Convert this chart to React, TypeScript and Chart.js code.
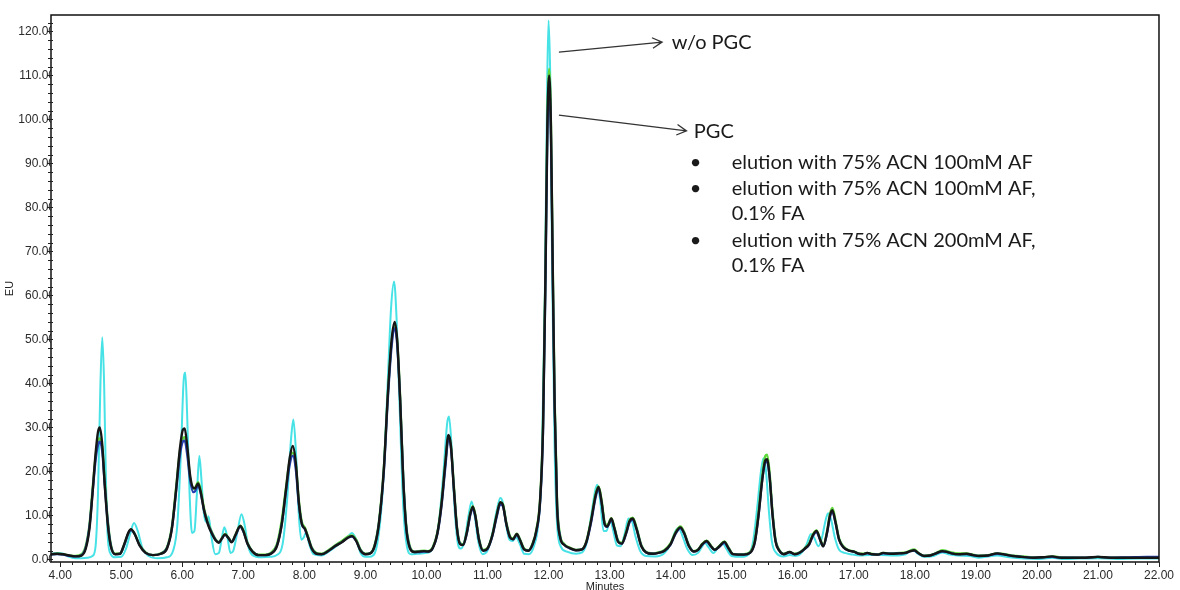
import React, { useEffect, useRef } from "react";
import { Chart, registerables } from "chart.js";

Chart.register(...registerables);

// ---- Data (retention time in minutes, signal in EU) ----
const pgcTimes = [
  3.85, 3.95, 4.05, 4.15, 4.25, 4.35, 4.42, 4.48, 4.53, 4.58, 4.62, 4.65, 4.69, 4.73, 4.78, 4.83, 4.9,
  4.98, 5.05, 5.12, 5.16, 5.22, 5.3, 5.4, 5.52, 5.65,
  5.75, 5.83, 5.9, 5.96, 6.01, 6.04, 6.08, 6.13, 6.18, 6.21, 6.26, 6.3, 6.36, 6.42, 6.48, 6.55, 6.6, 6.65, 6.7, 6.75, 6.81, 6.87, 6.95, 7.0,
  7.07, 7.15, 7.25, 7.36, 7.45, 7.55, 7.63, 7.7, 7.76, 7.81, 7.86, 7.91, 7.96, 8.01, 8.06, 8.12, 8.2, 8.28, 8.38, 8.5, 8.62, 8.72, 8.78, 8.85, 8.92, 9.0,
  9.08, 9.15, 9.22, 9.3, 9.37, 9.43, 9.48, 9.52, 9.57, 9.62, 9.67, 9.73, 9.8, 9.88, 9.96,
  10.03, 10.1, 10.18, 10.25, 10.31, 10.36, 10.4, 10.45, 10.5, 10.55, 10.6, 10.66, 10.72, 10.76, 10.8, 10.86, 10.93, 11.0,
  11.08, 11.15, 11.21, 11.25, 11.31, 11.37, 11.42, 11.48, 11.53, 11.6, 11.67, 11.74, 11.8, 11.86,
  11.91, 11.95, 11.98, 12.01, 12.04, 12.07, 12.1, 12.14, 12.19, 12.26, 12.35, 12.45, 12.55,
  12.62, 12.7, 12.77, 12.82, 12.87, 12.92, 12.96, 13.03, 13.08, 13.14, 13.2, 13.27, 13.33, 13.38, 13.44, 13.52, 13.6,
  13.7, 13.8, 13.9, 14.0, 14.08, 14.16, 14.22, 14.3, 14.38, 14.45, 14.52, 14.59, 14.66, 14.72, 14.8, 14.88, 14.95, 15.02,
  15.1, 15.2, 15.3, 15.38, 15.44, 15.5, 15.55, 15.58, 15.62, 15.67, 15.72, 15.78, 15.85, 15.95, 16.03,
  16.12, 16.2, 16.27, 16.33, 16.39, 16.45, 16.5, 16.56, 16.61, 16.65, 16.7, 16.76, 16.83, 16.92, 17.0,
  17.08, 17.15, 17.22, 17.3, 17.4, 17.48, 17.6, 17.75, 17.85, 17.93, 17.99, 18.06, 18.15, 18.25, 18.35, 18.45, 18.5,
  18.6, 18.72, 18.85, 18.95, 19.05, 19.2, 19.35, 19.48, 19.6, 19.75, 19.95, 20.1, 20.25, 20.4, 20.6, 20.8, 21.0, 21.2, 21.5, 21.8, 22.0,
];

// PGC, elution with 75% ACN 200mM AF, 0.1% FA (black)
const pgcBlackEU = [
  1.2, 1.3, 1.2, 0.9, 0.7, 0.9, 2.5, 7, 15, 24, 29, 30, 26, 17, 8, 3, 1.2,
  1.3, 3.5, 6.2, 6.9, 5.8, 3.2, 1.5, 1.0, 1.3,
  2.5, 7, 16, 25, 29.5, 29.8, 26, 19, 16.3, 16.2, 17.3, 15.5, 11, 8, 6, 4.3, 3.8, 4.8, 5.7, 5.0, 3.9, 5.5, 7.6, 6.5,
  3.5, 1.8, 1.0, 1.0, 1.3, 3, 8, 16, 23, 25.8, 22, 13, 8, 7, 5, 2.5, 1.3, 1.2, 1.8, 3.0, 4.0, 5.0, 5.3, 4.2, 2.0, 1.2,
  1.4, 3, 8, 20, 38, 50, 54, 50, 36, 18, 7, 2.5, 1.7, 1.8, 1.9,
  1.8, 2.5, 6, 13, 22, 28.3, 26, 16, 7, 3.5, 3.3, 6, 10.5, 12, 10, 4.5, 2.0, 2.5,
  5.5, 10, 13, 12.5, 8, 5, 4.6, 5.8, 4.5, 2.3, 2.0, 3.5, 6.5, 13,
  30, 65, 98, 110, 98, 65, 35, 12, 5, 3.3, 2.6, 2.1, 2.3,
  4, 9, 14.5, 16.5, 13, 8, 7.5, 9.3, 7, 4, 3.6, 6, 8.8, 9.3, 7, 3, 1.6,
  1.3, 1.5, 2.0, 3.5, 6, 7.3, 6, 3, 1.8, 2.2, 3.5, 4.2, 3, 2.2, 3, 4, 2.5, 1.2,
  1.1, 1.1, 1.5, 4, 10, 18, 22.5, 22.8, 19, 10, 4, 2, 1.2, 1.7, 1.2,
  1.6, 2.5, 3.5, 5.5, 6.5, 4.5, 3, 6, 10, 11.2, 8.5, 4.5, 2.8, 2.0, 1.8,
  1.3, 1.2, 1.5, 1.2, 1.1, 1.5, 1.3, 1.4, 1.5, 1.9, 2.1, 1.4, 0.8, 0.9, 1.4, 1.9, 1.8,
  1.4, 1.2, 1.3, 1.0, 0.8, 0.9, 1.4, 1.1, 0.8, 0.6, 0.4, 0.5, 0.7, 0.4, 0.4, 0.4, 0.6, 0.4, 0.4, 0.4, 0.4,
];

// PGC, elution with 75% ACN 100mM AF (blue)
const pgcBlueEU = [
  1.1, 1.2, 1.1, 0.8, 0.7, 1.0, 2.8, 7.5, 15, 22.5, 26, 26.8, 24.5, 17, 8.5, 3.2, 1.2,
  1.3, 3.3, 6.0, 6.7, 5.8, 3.3, 1.5, 1.0, 1.3,
  2.6, 7, 15.5, 23.5, 26.8, 27, 24, 18, 15.3, 15.5, 16.8, 15.2, 11, 8.2, 6.2, 4.4, 3.9, 4.8, 5.6, 5.0, 4.0, 5.4, 7.4, 6.4,
  3.6, 1.8, 1.0, 1.0, 1.3, 3.1, 8, 15.5, 21.5, 23.6, 20.5, 12.5, 8, 6.8, 5, 2.6, 1.3, 1.2, 1.8, 3.0, 4.0, 5.0, 5.2, 4.2, 2.1, 1.2,
  1.4, 3, 8, 19.5, 37, 48.5, 52.5, 49, 36, 18.5, 7.3, 2.7, 1.7, 1.7, 1.8,
  1.8, 2.5, 5.8, 12.5, 21, 27.4, 25.5, 16, 7.2, 3.6, 3.3, 5.8, 10.2, 11.6, 9.8, 4.6, 2.0, 2.4,
  5.3, 9.6, 12.5, 12.2, 8, 5, 4.6, 5.6, 4.5, 2.3, 2.0, 3.4, 6.3, 12.5,
  29, 63, 95, 107.5, 96, 64, 35, 12.5, 5.2, 3.3, 2.5, 2.1, 2.3,
  3.9, 8.6, 14, 16, 12.8, 8, 7.4, 9, 7, 4.1, 3.6, 5.8, 8.5, 9.0, 7, 3.1, 1.6,
  1.3, 1.5, 2.0, 3.4, 5.8, 7.1, 6, 3.1, 1.8, 2.2, 3.4, 4.0, 3, 2.2, 2.9, 3.8, 2.5, 1.2,
  1.1, 1.1, 1.5, 4, 10, 18, 22, 22.2, 19, 10.2, 4.2, 2, 1.2, 1.6, 1.2,
  1.6, 2.4, 3.4, 5.3, 6.2, 4.4, 3, 5.8, 9.6, 10.8, 8.4, 4.5, 2.8, 2.0, 1.8,
  1.3, 1.2, 1.4, 1.2, 1.1, 1.4, 1.3, 1.4, 1.5, 1.9, 2.0, 1.4, 0.8, 0.9, 1.4, 1.8, 1.8,
  1.4, 1.2, 1.2, 1.0, 0.8, 0.9, 1.3, 1.1, 0.8, 0.6, 0.4, 0.5, 0.6, 0.4, 0.4, 0.4, 0.6, 0.4, 0.5, 0.6, 0.6,
];

// PGC, elution with 75% ACN 100mM AF, 0.1% FA (green)
const pgcGreenEU = [
  1.2, 1.3, 1.2, 0.9, 0.8, 1.2, 3.2, 8, 16, 23.5, 27, 27.5, 25.5, 18, 9, 3.5, 1.3,
  1.3, 3.4, 6.1, 6.8, 5.9, 3.4, 1.6, 1.0, 1.4,
  2.8, 7.5, 16.5, 24.5, 27.5, 27.8, 25, 18.5, 16, 16.3, 17.6, 16, 11.5, 8.5, 6.4, 4.5, 4.0, 4.9, 5.8, 5.1, 4.1, 5.6, 7.7, 6.7,
  3.8, 1.9, 1.1, 1.1, 1.5, 3.5, 9, 16.5, 22.5, 24.3, 21.5, 13.5, 8.5, 7.2, 5.3, 2.8, 1.5, 1.3, 2.0, 3.2, 4.3, 5.3, 5.5, 4.5, 2.3, 1.3,
  1.5, 3.3, 8.5, 20.5, 38, 49.5, 53.2, 50, 37, 19, 7.8, 3, 1.8, 1.9, 2.0,
  1.9, 2.7, 6.2, 13.3, 22, 28, 26, 16.8, 7.6, 3.8, 3.5, 6.2, 10.7, 12.1, 10.3, 4.9, 2.2, 2.6,
  5.6, 10.1, 13, 12.7, 8.4, 5.3, 4.8, 5.9, 4.7, 2.5, 2.1, 3.7, 6.8, 13.5,
  31, 66, 99, 111.5, 99.5, 67, 37, 13.5, 5.6, 3.5, 2.7, 2.2, 2.4,
  4.2, 9.2, 14.8, 16.6, 13.5, 8.5, 7.8, 9.4, 7.3, 4.3, 3.8, 6.2, 9.0, 9.5, 7.4, 3.3, 1.7,
  1.4, 1.6, 2.2, 3.7, 6.2, 7.5, 6.3, 3.3, 1.9, 2.3, 3.6, 4.3, 3.2, 2.3, 3.1, 4.1, 2.7, 1.3,
  1.2, 1.2, 1.7, 4.5, 11, 19, 23.5, 23.8, 20, 10.8, 4.5, 2.2, 1.3, 1.7, 1.3,
  1.7, 2.6, 3.7, 5.7, 6.6, 4.7, 3.2, 6.3, 10.4, 11.7, 9, 4.8, 3, 2.1, 1.9,
  1.4, 1.3, 1.5, 1.3, 1.2, 1.5, 1.4, 1.5, 1.6, 2.1, 2.3, 1.5, 0.9, 1.0, 1.5, 2.1, 2.0,
  1.6, 1.4, 1.4, 1.1, 0.9, 1.0, 1.4, 1.2, 0.9, 0.7, 0.5, 0.5, 0.7, 0.5, 0.4, 0.4, 0.6, 0.4, 0.4, 0.4, 0.4,
];

// w/o PGC (cyan)
const noPgcTimes = [
  3.85, 3.95, 4.05, 4.15, 4.25, 4.35, 4.45, 4.53, 4.58, 4.62, 4.66, 4.69, 4.72, 4.75, 4.78, 4.83, 4.9,
  5.0, 5.08, 5.15, 5.21, 5.27, 5.35, 5.45, 5.6, 5.75,
  5.85, 5.92, 5.98, 6.02, 6.05, 6.08, 6.12, 6.16, 6.2, 6.24, 6.28, 6.31, 6.35, 6.39, 6.43, 6.48, 6.54, 6.6, 6.65, 6.69, 6.74, 6.79, 6.83, 6.9, 6.97, 7.02,
  7.08, 7.15, 7.3, 7.45, 7.55, 7.65, 7.72, 7.78, 7.82, 7.86, 7.91, 7.95, 7.99, 8.03, 8.08, 8.15, 8.28, 8.4, 8.55, 8.7, 8.78, 8.85, 8.92, 9.0,
  9.1, 9.2, 9.28, 9.35, 9.42, 9.47, 9.51, 9.56, 9.62, 9.68, 9.75, 9.85, 10.0,
  10.1, 10.2, 10.28, 10.34, 10.37, 10.41, 10.46, 10.51, 10.56, 10.62, 10.69, 10.74, 10.79, 10.85, 10.92, 11.0,
  11.08, 11.15, 11.21, 11.25, 11.31, 11.36, 11.41, 11.47, 11.53, 11.6, 11.68, 11.76, 11.83,
  11.89, 11.94, 11.98, 12.0, 12.03, 12.06, 12.1, 12.14, 12.2, 12.3, 12.45, 12.55,
  12.63, 12.71, 12.77, 12.8, 12.85, 12.9, 12.95, 13.01, 13.06, 13.12, 13.18, 13.25, 13.31, 13.36, 13.42, 13.5, 13.6,
  13.75, 13.9, 14.0, 14.07, 14.13, 14.19, 14.27, 14.36, 14.45, 14.52, 14.56, 14.62, 14.7, 14.78, 14.85, 14.91, 15.0,
  15.15, 15.28, 15.35, 15.42, 15.48, 15.52, 15.56, 15.61, 15.66, 15.73, 15.85, 15.95, 16.05,
  16.15, 16.23, 16.3, 16.35, 16.42, 16.48, 16.54, 16.58, 16.63, 16.69, 16.76, 16.85, 16.95,
  17.1, 17.25, 17.45, 17.65, 17.85, 17.96, 18.05, 18.15, 18.3, 18.45, 18.55, 18.7, 18.9,
  19.05, 19.35, 19.55, 19.8, 20.0, 20.25, 20.45, 20.7, 21.0, 21.3, 21.7, 22.0,
];

const noPgcCyanEU = [
  1.3, 1.5, 1.3, 0.6, 0.3, 0.3, 0.4, 0.8, 3, 15, 40, 50.5, 40, 18, 5, 1.2, 0.5,
  0.6, 2.5, 6, 8.3, 6.5, 2.5, 0.8, 0.3, 0.5,
  2, 8, 25, 40, 42.5, 33, 15, 6, 6.5, 15, 23.5, 19, 11, 8.5, 9.8, 5, 1.2, 1.5, 5, 7.3, 5, 1.5, 1.8, 6, 10.3, 8,
  3, 1, 0.5, 0.6, 1, 4, 14, 27, 31.8, 25, 10, 4.5, 5, 6.2, 3.5, 1.2, 0.9, 1.8, 3.3, 5, 6.0, 4.5, 1.5, 0.6,
  0.7, 4, 15, 35, 57, 63.2, 55, 35, 12, 3, 1.2, 1.3, 1.5,
  2.5, 8, 20, 31, 32.5, 26, 12, 4, 2.5, 4, 10, 13.2, 10, 4, 1.2, 2,
  6, 11, 14, 13, 7.5, 4.5, 4.2, 5, 3.5, 1.3, 1.2, 3, 8,
  22, 60, 110, 122.5, 108, 65, 25, 8, 3, 1.8, 1.3, 1.6,
  4, 11, 16, 17, 13, 6.5, 6.5, 9, 6.5, 3.2, 3, 6, 9.3, 9.0, 5.5, 2, 0.8,
  0.7, 1.5, 3.5, 6.2, 7.2, 5.5, 2.5, 1.0, 1.5, 3, 3.8, 2.8, 1.5, 2.8, 3.8, 2.5, 0.8,
  0.6, 1.2, 4, 12, 20, 23, 20.5, 11, 4, 1.5, 0.7, 1.0, 0.8,
  1.6, 3.5, 5.8, 5, 3, 5, 9, 10.5, 9, 5, 2.2, 1.5, 1.2,
  0.9, 1.0, 1.0, 0.9, 1.2, 2.2, 1.3, 0.6, 0.8, 1.6, 1.2, 0.9, 0.8,
  0.4, 0.9, 0.5, 0.2, 0.1, 0.4, 0.1, 0.2, 0.3, 0.1, 0.2, 0.2,
];

const xMin = 3.85;
const xMax = 22.0;
const yMin = -0.57;
const yMax = 123.75;

const annotationText = {
  withoutPgc: "w/o PGC",
  pgc: "PGC",
  bullets: [
    ["elution with 75% ACN 100mM AF"],
    ["elution with 75% ACN 100mM AF,", "0.1% FA"],
    ["elution with 75% ACN 200mM AF,", "0.1% FA"],
  ],
};

const tickFont = '"Liberation Sans", Arial, sans-serif';
const noteFont = 'Lato, "Open Sans", sans-serif';

function drawArrow(ctx: CanvasRenderingContext2D, x1: number, y1: number, x2: number, y2: number) {
  const ang = Math.atan2(y2 - y1, x2 - x1);
  const len = 11;
  const spread = 0.5;
  ctx.beginPath();
  ctx.moveTo(x1, y1);
  ctx.lineTo(x2, y2);
  ctx.moveTo(x2 - len * Math.cos(ang - spread), y2 - len * Math.sin(ang - spread));
  ctx.lineTo(x2, y2);
  ctx.lineTo(x2 - len * Math.cos(ang + spread), y2 - len * Math.sin(ang + spread));
  ctx.stroke();
}

const framePlugin = {
  id: "frameAndNotes",
  afterDraw(chart: any) {
    const { ctx, chartArea: a, scales } = chart;
    const xs = scales.x;
    const ys = scales.y;
    ctx.save();
    // frame
    ctx.strokeStyle = "#111";
    ctx.lineWidth = 1.5;
    ctx.strokeRect(a.left, a.top, a.right - a.left, a.bottom - a.top);
    // tick marks
    ctx.lineWidth = 1;
    ctx.strokeStyle = "#222";
    ctx.beginPath();
    for (let i = 0; ; i++) {
      const v = 4 + i * 0.2;
      if (v > xMax + 1e-6) break;
      const px = Math.round(xs.getPixelForValue(v)) + 0.5;
      const major = i % 5 === 0;
      ctx.moveTo(px, a.bottom);
      ctx.lineTo(px, a.bottom + (major ? 5 : 3));
    }
    for (let i = 0; ; i++) {
      const v = i * 2;
      if (v > yMax) break;
      const py = Math.round(ys.getPixelForValue(v)) + 0.5;
      const major = i % 5 === 0;
      ctx.moveTo(a.left - (major ? 4 : 3), py);
      ctx.lineTo(a.left + 2, py);
    }
    ctx.stroke();

    // annotations (anchored in chart coordinates)
    const X = (t: number) => xs.getPixelForValue(t);
    const Y = (v: number) => ys.getPixelForValue(v);
    ctx.strokeStyle = "#333";
    ctx.lineWidth = 1.3;
    drawArrow(ctx, X(12.17), Y(115.3), X(13.86), Y(117.6));
    drawArrow(ctx, X(12.17), Y(101.0), X(14.26), Y(97.4));

    ctx.fillStyle = "#1a1a1a";
    ctx.textBaseline = "middle";
    ctx.textAlign = "left";
    ctx.font = `20px ${noteFont}`;
    ctx.fillText(annotationText.withoutPgc, X(14.02), Y(117.4));
    ctx.fillText(annotationText.pgc, X(14.38), Y(97.2));

    const lineYs = [90.3, 84.4, 78.7, 72.6, 66.7];
    let k = 0;
    annotationText.bullets.forEach((lines) => {
      lines.forEach((line, j) => {
        const yy = Y(lineYs[k]);
        if (j === 0) {
          ctx.textAlign = "center";
          ctx.fillText("•", X(14.41), yy);
          ctx.textAlign = "left";
        }
        ctx.fillText(line, X(15.0), yy);
        k++;
      });
    });
    ctx.restore();
  },
};

export default function App() {
  const canvasRef = useRef<HTMLCanvasElement | null>(null);

  useEffect(() => {
    if (!canvasRef.current) return;
    const common = {
      pointRadius: 0,
      pointHoverRadius: 0,
      fill: false,
      cubicInterpolationMode: "monotone" as const,
    };
    const chart = new Chart(canvasRef.current, {
      type: "line",
      data: {
        datasets: [
          {
            ...common,
            label: "PGC 75% ACN 200mM AF, 0.1% FA",
            data: pgcTimes.map((t, i) => ({ x: t, y: pgcBlackEU[i] })),
            borderColor: "#161616",
            borderWidth: 2.4,
          },
          {
            ...common,
            label: "PGC 75% ACN 100mM AF",
            data: pgcTimes.map((t, i) => ({ x: t, y: pgcBlueEU[i] })),
            borderColor: "#2540b0",
            borderWidth: 2.3,
          },
          {
            ...common,
            label: "PGC 75% ACN 100mM AF, 0.1% FA",
            data: pgcTimes.map((t, i) => ({ x: t, y: pgcGreenEU[i] })),
            borderColor: "#5fd83c",
            borderWidth: 2.3,
          },
          {
            ...common,
            label: "w/o PGC",
            data: noPgcTimes.map((t, i) => ({ x: t, y: noPgcCyanEU[i] })),
            borderColor: "#46e2e6",
            borderWidth: 2,
          },
        ],
      },
      options: {
        responsive: false,
        animation: false,
        devicePixelRatio: 1,
        events: [],
        layout: { padding: { top: 15, right: 18.4, bottom: 0, left: 0 } },
        plugins: {
          legend: { display: false },
          tooltip: { enabled: false },
        },
        scales: {
          x: {
            type: "linear",
            min: xMin,
            max: xMax,
            afterFit: (s: any) => {
              s.height = 28;
            },
            grid: { display: false, drawTicks: false },
            border: { display: false },
            ticks: {
              stepSize: 1,
              includeBounds: false,
              autoSkip: false,
              maxRotation: 0,
              padding: 6,
              color: "#2a2a2a",
              font: { family: tickFont, size: 12 },
              callback: (v: any) => Number(v).toFixed(2),
            },
            title: {
              display: true,
              text: "Minutes",
              color: "#222",
              padding: 0,
              font: { family: tickFont, size: 11, lineHeight: 0.55 },
            },
          },
          y: {
            type: "linear",
            min: yMin,
            max: yMax,
            afterFit: (s: any) => {
              s.width = 51;
            },
            grid: { display: false, drawTicks: false },
            border: { display: false },
            ticks: {
              stepSize: 10,
              includeBounds: false,
              padding: -4,
              color: "#2a2a2a",
              font: { family: tickFont, size: 12 },
              callback: (v: any) => Number(v).toFixed(2),
            },
            title: {
              display: true,
              text: "EU",
              color: "#222",
              padding: 0,
              font: { family: tickFont, size: 11, lineHeight: 1.8 },
            },
          },
        },
      },
      plugins: [framePlugin],
    });
    return () => chart.destroy();
  }, []);

  return (
    <div style={{ position: "absolute", left: 0, top: 0, width: 1180, height: 590, background: "#fff" }}>
      <canvas ref={canvasRef} width={1180} height={590} style={{ display: "block" }} />
    </div>
  );
}
